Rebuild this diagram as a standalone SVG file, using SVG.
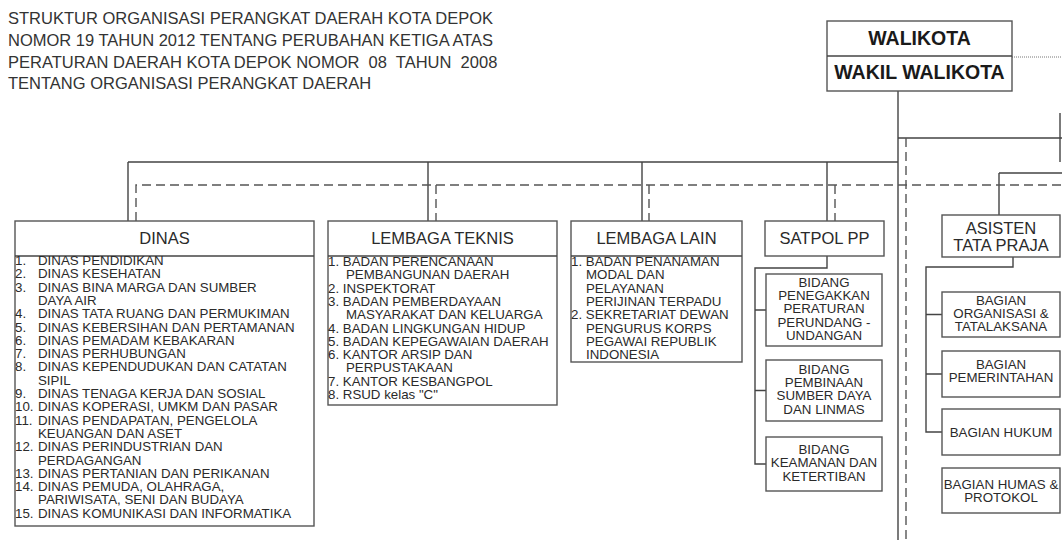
<svg xmlns="http://www.w3.org/2000/svg" width="1062" height="540" viewBox="0 0 1062 540">
<style>
text{font-family:"Liberation Sans",Arial,sans-serif;fill:#2a2a2a}
.t{font-size:16.5px;fill:#333}
.h{font-size:16.5px;text-anchor:middle}
.i{font-size:13.3px}
.c{font-size:13.3px;text-anchor:middle}
.b{font-size:19.5px;font-weight:bold;text-anchor:middle;fill:#1a1a1a}
.box{fill:#fff;stroke:#555;stroke-width:1.4}
.ln{fill:none;stroke:#444;stroke-width:1.4}
.ds{fill:none;stroke:#555;stroke-width:1.4;stroke-dasharray:9 5}
.dt{fill:none;stroke:#777;stroke-width:1;stroke-dasharray:1 1}
</style>
<g id="title">
<text class="t" x="8" y="24">STRUKTUR ORGANISASI PERANGKAT DAERAH KOTA DEPOK</text>
<text class="t" x="8" y="46">NOMOR 19 TAHUN 2012 TENTANG PERUBAHAN KETIGA ATAS</text>
<text class="t" x="8" y="67.5" xml:space="preserve">PERATURAN DAERAH KOTA DEPOK NOMOR  08  TAHUN  2008</text>
<text class="t" x="8" y="89">TENTANG ORGANISASI PERANGKAT DAERAH</text>
</g>
<g id="connectors">
<path class="ln" d="M898 91V540M128 162H898M128 162V221M428 162V221M642 162V221M827 162V221M898 138H1062M1060 113V162M999 173H1062M999 173V215"/>
<path class="ds" d="M136 221V185H1062M436 185V221M649 185V221M835 185V221M906 138V540"/>
<path class="dt" d="M1012 57H1062"/>
<path class="ln" d="M827 256V268H755V464H766M755 310H766M755 390.5H766"/>
<path class="ln" d="M1013 257V267H926V432H942M926 314.5H942M926 374H942"/>
</g>
<g id="walikota">
<rect class="box" x="827" y="21" width="185" height="70"/>
<line class="ln" x1="827" y1="56" x2="1012" y2="56"/>
<text class="b" x="919.5" y="45">WALIKOTA</text>
<text class="b" x="919.5" y="79">WAKIL WALIKOTA</text>
</g>
<g id="dinas">
<rect class="box" x="15" y="221" width="299" height="305"/>
<line class="ln" x1="15" y1="256" x2="314" y2="256"/>
<text class="h" x="164.5" y="244">DINAS</text>
<text class="i">
<tspan x="15" y="265">1.</tspan><tspan x="38" y="265">DINAS PENDIDIKAN</tspan>
<tspan x="15" y="278.3">2.</tspan><tspan x="38" y="278.3">DINAS KESEHATAN</tspan>
<tspan x="15" y="291.6">3.</tspan><tspan x="38" y="291.6">DINAS BINA MARGA DAN SUMBER</tspan>
<tspan x="38" y="304.9">DAYA AIR</tspan>
<tspan x="15" y="318.2">4.</tspan><tspan x="38" y="318.2">DINAS TATA RUANG DAN PERMUKIMAN</tspan>
<tspan x="15" y="331.5">5.</tspan><tspan x="38" y="331.5">DINAS KEBERSIHAN DAN PERTAMANAN</tspan>
<tspan x="15" y="344.8">6.</tspan><tspan x="38" y="344.8">DINAS PEMADAM KEBAKARAN</tspan>
<tspan x="15" y="358.1">7.</tspan><tspan x="38" y="358.1">DINAS PERHUBUNGAN</tspan>
<tspan x="15" y="371.4">8.</tspan><tspan x="38" y="371.4">DINAS KEPENDUDUKAN DAN CATATAN</tspan>
<tspan x="38" y="384.7">SIPIL</tspan>
<tspan x="15" y="398">9.</tspan><tspan x="38" y="398">DINAS TENAGA KERJA DAN SOSIAL</tspan>
<tspan x="15" y="411.3">10.</tspan><tspan x="38" y="411.3">DINAS KOPERASI, UMKM DAN PASAR</tspan>
<tspan x="15" y="424.6">11.</tspan><tspan x="38" y="424.6">DINAS PENDAPATAN, PENGELOLA</tspan>
<tspan x="38" y="437.9">KEUANGAN DAN ASET</tspan>
<tspan x="15" y="451.2">12.</tspan><tspan x="38" y="451.2">DINAS PERINDUSTRIAN DAN</tspan>
<tspan x="38" y="464.5">PERDAGANGAN</tspan>
<tspan x="15" y="477.8">13.</tspan><tspan x="38" y="477.8">DINAS PERTANIAN DAN PERIKANAN</tspan>
<tspan x="15" y="491.1">14.</tspan><tspan x="38" y="491.1">DINAS PEMUDA, OLAHRAGA,</tspan>
<tspan x="38" y="504.4">PARIWISATA, SENI DAN BUDAYA</tspan>
<tspan x="15" y="517.7">15.</tspan><tspan x="38" y="517.7">DINAS KOMUNIKASI DAN INFORMATIKA</tspan>
</text>
</g>
<g id="lembaga-teknis">
<rect class="box" x="328" y="221" width="229" height="184"/>
<line class="ln" x1="328" y1="256" x2="557" y2="256"/>
<text class="h" x="442.5" y="244">LEMBAGA TEKNIS</text>
<text class="i">
<tspan x="328" y="266">1. BADAN PERENCANAAN</tspan>
<tspan x="346" y="279.3">PEMBANGUNAN DAERAH</tspan>
<tspan x="328" y="292.6">2. INSPEKTORAT</tspan>
<tspan x="328" y="305.9">3. BADAN PEMBERDAYAAN</tspan>
<tspan x="346" y="319.2">MASYARAKAT DAN KELUARGA</tspan>
<tspan x="328" y="332.5">4. BADAN LINGKUNGAN HIDUP</tspan>
<tspan x="328" y="345.8">5. BADAN KEPEGAWAIAN DAERAH</tspan>
<tspan x="328" y="359.1">6. KANTOR ARSIP DAN</tspan>
<tspan x="346" y="372.4">PERPUSTAKAAN</tspan>
<tspan x="328" y="385.7">7. KANTOR KESBANGPOL</tspan>
<tspan x="328" y="399">8. RSUD kelas "C"</tspan>
</text>
</g>
<g id="lembaga-lain">
<rect class="box" x="571" y="221" width="171" height="141"/>
<line class="ln" x1="571" y1="256" x2="742" y2="256"/>
<text class="h" x="656.5" y="244">LEMBAGA LAIN</text>
<text class="i">
<tspan x="571" y="266">1. BADAN PENANAMAN</tspan>
<tspan x="586" y="279.3">MODAL DAN</tspan>
<tspan x="586" y="292.6">PELAYANAN</tspan>
<tspan x="586" y="305.9">PERIJINAN TERPADU</tspan>
<tspan x="571" y="319.2">2. SEKRETARIAT DEWAN</tspan>
<tspan x="586" y="332.5">PENGURUS KORPS</tspan>
<tspan x="586" y="345.8">PEGAWAI REPUBLIK</tspan>
<tspan x="586" y="359.1">INDONESIA</tspan>
</text>
</g>
<g id="satpol-pp">
<rect class="box" x="765" y="221" width="119" height="35"/>
<text class="h" x="824.5" y="244">SATPOL PP</text>
</g>
<g id="bidang-penegakkan">
<rect class="box" x="766" y="274" width="116" height="72"/>
<text class="c"><tspan x="824" y="286.7">BIDANG</tspan><tspan x="824" y="300">PENEGAKKAN</tspan><tspan x="824" y="313.3">PERATURAN</tspan><tspan x="824" y="326.6">PERUNDANG -</tspan><tspan x="824" y="339.9">UNDANGAN</tspan></text>
</g>
<g id="bidang-pembinaan">
<rect class="box" x="766" y="360" width="116" height="61"/>
<text class="c"><tspan x="824" y="373.7">BIDANG</tspan><tspan x="824" y="387">PEMBINAAN</tspan><tspan x="824" y="400.3">SUMBER DAYA</tspan><tspan x="824" y="413.6">DAN LINMAS</tspan></text>
</g>
<g id="bidang-keamanan">
<rect class="box" x="766" y="437" width="116" height="54"/>
<text class="c"><tspan x="824" y="454">BIDANG</tspan><tspan x="824" y="467.3">KEAMANAN DAN</tspan><tspan x="824" y="480.6">KETERTIBAN</tspan></text>
</g>
<g id="asisten-tata-praja">
<rect class="box" x="942" y="215" width="118" height="42"/>
<text class="h"><tspan x="1001" y="234">ASISTEN</tspan><tspan x="1001" y="251">TATA PRAJA</tspan></text>
</g>
<g id="bagian-organisasi">
<rect class="box" x="942" y="292" width="118" height="45"/>
<text class="c"><tspan x="1001" y="304.5">BAGIAN</tspan><tspan x="1001" y="317.8">ORGANISASI &amp;</tspan><tspan x="1001" y="331.1">TATALAKSANA</tspan></text>
</g>
<g id="bagian-pemerintahan">
<rect class="box" x="942" y="351" width="118" height="46"/>
<text class="c"><tspan x="1001" y="369">BAGIAN</tspan><tspan x="1001" y="382.3">PEMERINTAHAN</tspan></text>
</g>
<g id="bagian-hukum">
<rect class="box" x="942" y="409" width="118" height="46"/>
<text class="c" x="1001" y="436.7">BAGIAN HUKUM</text>
</g>
<g id="bagian-humas">
<rect class="box" x="942" y="468" width="118" height="45"/>
<text class="c"><tspan x="1001" y="488.7">BAGIAN HUMAS &amp;</tspan><tspan x="1001" y="502">PROTOKOL</tspan></text>
</g>
</svg>
